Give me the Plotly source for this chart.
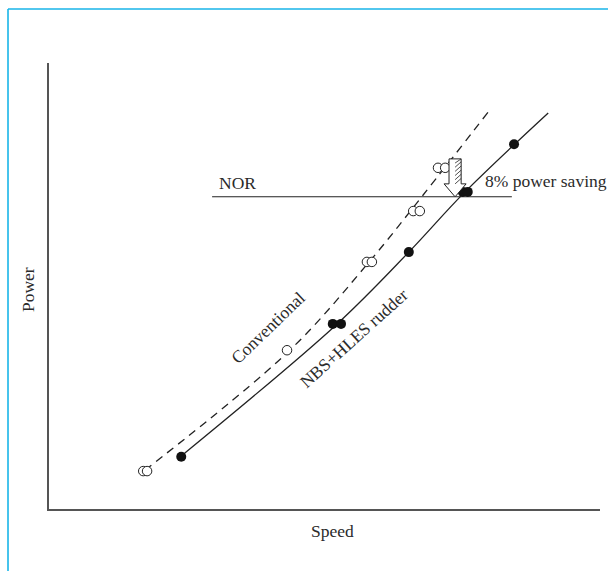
import plotly.graph_objects as go

# Speed / power in arbitrary (relative) units, both axes 0-100
# Fitted power curves
nbs_curve_speed = [24.0, 52.3, 65.3, 75.5, 90.6]
nbs_curve_power = [11.9, 41.5, 57.6, 71.1, 88.8]
conv_curve_speed = [17.4, 43.7, 58.1, 67.9, 79.7]
conv_curve_power = [8.7, 35.6, 55.4, 70.4, 89.0]

# Measured points
nbs_speed = [24.0, 51.5, 53.0, 65.3, 75.1, 76.0, 84.4]
nbs_power = [11.7, 41.5, 41.5, 57.6, 71.1, 71.1, 81.8]
conv_speed = [17.1, 17.8, 43.2, 57.7, 58.6, 66.1, 67.3, 70.6, 71.9]
conv_power = [8.5, 8.5, 35.6, 55.4, 55.4, 66.8, 66.8, 76.5, 76.5]

# Normal operating rating (NOR) line
nor_power = 70.0
nor_speed_range = [29.6, 84.0]

# Power-saving arrow
arrow_speed = 73.7
arrow_top = 78.5

INK = "#222222"
TXT = "#2b2b2b"
FONT = "Liberation Serif"
FS = 17.5

fig = go.Figure()

fig.add_trace(go.Scatter(
    x=conv_curve_speed, y=conv_curve_power, mode="lines",
    line=dict(color=INK, width=1.3, dash="8px,6px", shape="spline", smoothing=1.0),
    hoverinfo="skip", showlegend=False))
fig.add_trace(go.Scatter(
    x=nbs_curve_speed, y=nbs_curve_power, mode="lines",
    line=dict(color=INK, width=1.3, shape="spline", smoothing=1.0),
    hoverinfo="skip", showlegend=False))
fig.add_trace(go.Scatter(
    x=nor_speed_range, y=[nor_power, nor_power], mode="lines",
    line=dict(color=INK, width=1.1), hoverinfo="skip", showlegend=False))
fig.add_trace(go.Scatter(
    x=conv_speed, y=conv_power, mode="markers",
    marker=dict(symbol="circle", size=9.5, color="white", line=dict(color=INK, width=1)),
    showlegend=False))
fig.add_trace(go.Scatter(
    x=nbs_speed, y=nbs_power, mode="markers",
    marker=dict(symbol="circle", size=10, color="#111111", line=dict(width=0)),
    showlegend=False))

# Hatched down arrow between the two curves at NOR
shaft_hw, head_hw, head_h = 1.1, 2.0, 2.9
x0, x1 = arrow_speed - shaft_hw, arrow_speed + shaft_hw
yb = nor_power + head_h
path = (f"M {x0},{arrow_top} L {x1},{arrow_top} L {x1},{yb} L {arrow_speed + head_hw},{yb} "
        f"L {arrow_speed},{nor_power} L {arrow_speed - head_hw},{yb} L {x0},{yb} Z")
shapes = [dict(type="path", path=path, xref="x", yref="y",
               line=dict(color=INK, width=1), fillcolor="white")]
n_hatch = 6
dy = (arrow_top - yb) / n_hatch
for i in range(n_hatch):
    ya = yb + i * dy
    shapes.append(dict(type="line", xref="x", yref="y",
                       x0=arrow_speed, y0=ya, x1=x1, y1=min(ya + dy * 1.3, arrow_top),
                       line=dict(color=INK, width=0.8)))

# Cyan page frame (top and left edges)
frame = "#19b5e8"
shapes.append(dict(type="line", xref="paper", yref="paper",
                   x0=-0.0744, y0=1.121, x1=1.02, y1=1.121, line=dict(color=frame, width=1.6)))
shapes.append(dict(type="line", xref="paper", yref="paper",
                   x0=-0.0744, y0=1.121, x1=-0.0744, y1=-0.15, line=dict(color=frame, width=1.6)))

font = dict(family=FONT, size=FS, color=TXT)
annotations = [
    dict(x=34.3, y=73.1, xref="x", yref="y", text="NOR", showarrow=False,
         xanchor="center", yanchor="middle", font=font),
    dict(x=78.8, y=73.5, xref="x", yref="y", text="8% power saving", showarrow=False,
         xanchor="left", yanchor="middle", font=font),
    dict(x=39.7, y=40.6, xref="x", yref="y", text="Conventional", showarrow=False,
         textangle=-44, xanchor="center", yanchor="middle", font=font),
    dict(x=55.4, y=38.3, xref="x", yref="y", text="NBS+HLES rudder", showarrow=False,
         textangle=-42, xanchor="center", yanchor="middle", font=font),
    dict(x=0.515, y=-0.049, xref="paper", yref="paper", text="Speed", showarrow=False,
         xanchor="center", yanchor="middle", font=font),
    dict(x=-0.038, y=0.491, xref="paper", yref="paper", text="Power", showarrow=False,
         textangle=-90, xanchor="center", yanchor="middle", font=font),
]

axis_common = dict(showgrid=False, zeroline=False, showticklabels=False, ticks="",
                   showline=True, linecolor="#555555", linewidth=1.5, fixedrange=True)
fig.update_layout(
    width=608, height=571,
    margin=dict(l=49, r=8, t=63, b=62),
    paper_bgcolor="white", plot_bgcolor="white",
    xaxis=dict(range=[0, 100], **axis_common),
    yaxis=dict(range=[0, 100], **axis_common),
    shapes=shapes, annotations=annotations,
    showlegend=False,
)

fig.write_html("out.html", config={"displayModeBar": False})
